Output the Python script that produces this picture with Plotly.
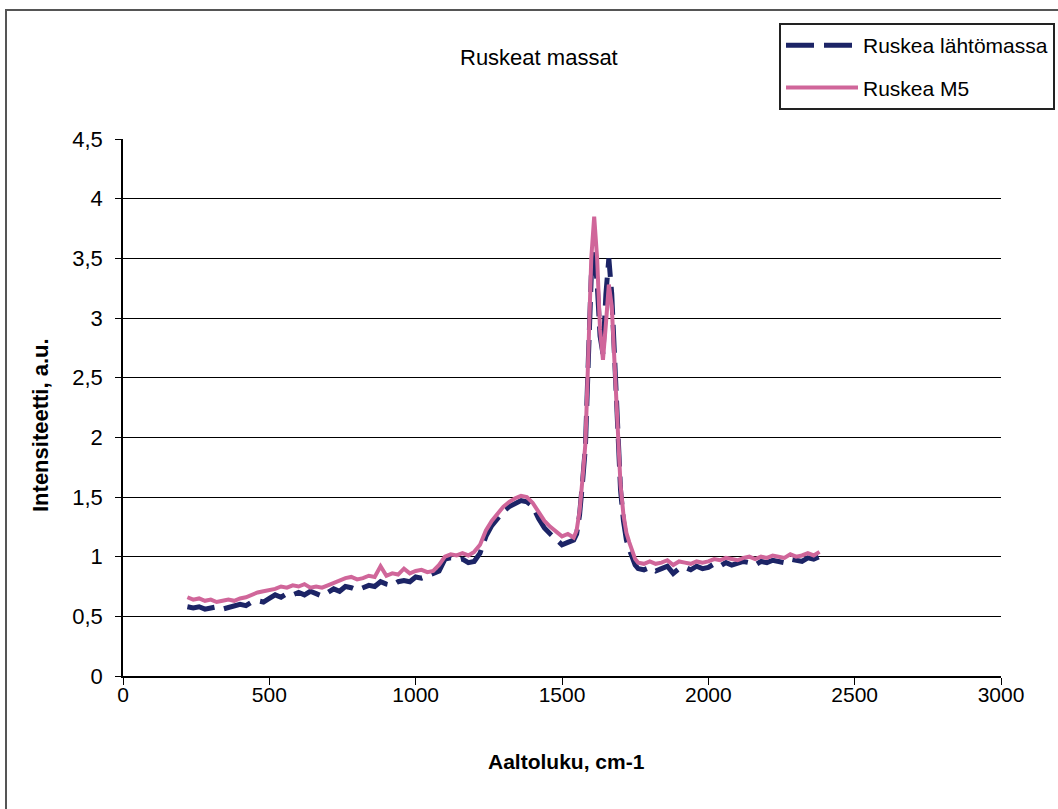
import plotly.graph_objects as go

# Raman spectra of the brown pulps (wavenumber in cm-1, intensity in a.u.)
wavenumber = [
    220, 240, 260, 280, 300, 320, 340, 360, 380, 400, 420, 440, 460, 480, 500,
    520, 540, 560, 580, 600, 620, 640, 660, 680, 700, 720, 740, 760, 780, 800,
    820, 840, 860, 880, 900, 920, 940, 960, 980, 1000, 1020, 1040, 1060, 1080,
    1100, 1120, 1140, 1160, 1180, 1200, 1220, 1240, 1260, 1280, 1300, 1320,
    1340, 1360, 1380, 1400, 1420, 1440, 1460, 1480, 1500, 1520, 1540,
    1550, 1560, 1570, 1580, 1590, 1600, 1610, 1620, 1630, 1640, 1650, 1660,
    1670, 1680, 1690, 1700, 1710, 1720, 1730, 1740, 1750, 1760,
    1780, 1800, 1820, 1840, 1860, 1880, 1900, 1920, 1940, 1960, 1980, 2000,
    2020, 2040, 2060, 2080, 2100, 2120, 2140, 2160, 2180, 2200, 2220, 2240,
    2260, 2280, 2300, 2320, 2340, 2360, 2380,
]

lahtomassa = [
    0.58, 0.57, 0.58, 0.56, 0.57, 0.58, 0.56, 0.57, 0.58, 0.60, 0.59, 0.62, 0.63, 0.62, 0.65,
    0.68, 0.66, 0.69, 0.68, 0.70, 0.68, 0.71, 0.69, 0.67, 0.70, 0.73, 0.71, 0.75, 0.74, 0.72,
    0.74, 0.76, 0.75, 0.79, 0.77, 0.76, 0.79, 0.80, 0.79, 0.83, 0.82, 0.84, 0.85, 0.88,
    0.98, 0.99, 0.97, 0.98, 0.95, 0.96, 1.03, 1.17, 1.26, 1.32, 1.38, 1.42,
    1.44, 1.47, 1.46, 1.42, 1.32, 1.24, 1.19, 1.14, 1.10, 1.12, 1.14,
    1.19, 1.35, 1.62, 1.92, 2.65, 3.35, 3.55, 3.30, 2.85, 2.70, 3.20, 3.50,
    3.20, 2.62, 2.08, 1.56, 1.30, 1.14, 1.06, 1.00, 0.93, 0.90,
    0.89, 0.91, 0.88, 0.90, 0.92, 0.86, 0.90, 0.91, 0.89, 0.92, 0.90, 0.91,
    0.94, 0.92, 0.95, 0.93, 0.94, 0.96, 0.95, 0.93, 0.96, 0.95, 0.97, 0.96,
    0.95, 0.98, 0.97, 0.96, 0.99, 0.98, 1.00,
]

m5 = [
    0.66, 0.64, 0.65, 0.63, 0.64, 0.62, 0.63, 0.64, 0.63, 0.65, 0.66, 0.68, 0.70, 0.71, 0.72,
    0.73, 0.75, 0.74, 0.76, 0.75, 0.77, 0.74, 0.75, 0.74, 0.76, 0.78, 0.80, 0.82, 0.83, 0.81,
    0.82, 0.84, 0.83, 0.92, 0.84, 0.86, 0.85, 0.90, 0.86, 0.88, 0.89, 0.87, 0.88, 0.93,
    1.00, 1.02, 1.01, 1.03, 1.01, 1.04, 1.10, 1.22, 1.30, 1.36, 1.42, 1.46,
    1.49, 1.51, 1.50, 1.45, 1.38, 1.30, 1.25, 1.21, 1.17, 1.19, 1.16,
    1.22, 1.38, 1.65, 1.95, 2.70, 3.50, 3.85, 3.50, 2.90, 2.65, 2.95, 3.28,
    3.10, 2.60, 2.10, 1.60, 1.35, 1.20, 1.12, 1.05, 0.98, 0.95,
    0.94, 0.96, 0.94, 0.95, 0.97, 0.93, 0.96, 0.95, 0.94, 0.96, 0.95, 0.96,
    0.98, 0.97, 0.99, 0.98, 0.97, 0.99, 1.00, 0.98, 1.00, 0.99, 1.01, 1.00,
    0.99, 1.02, 1.00, 1.01, 1.03, 1.01, 1.04,
]

x_ticks = [0, 500, 1000, 1500, 2000, 2500, 3000]
y_ticks = [0, 0.5, 1, 1.5, 2, 2.5, 3, 3.5, 4, 4.5]
y_tick_text = ["0", "0,5", "1", "1,5", "2", "2,5", "3", "3,5", "4", "4,5"]

FONT = "Liberation Sans, Arial, sans-serif"
NAVY = "#1c2466"
PINK = "#d0669a"

W, H = 1058, 809
L, R, T, B = 123, 57, 139, 133
PW, PH = W - L - R, H - T - B


def px_to_paper_x(px):
    return (px - L) / PW


def px_to_paper_y(py):
    return (H - B - py) / PH


fig = go.Figure()
fig.add_trace(go.Scatter(
    x=wavenumber, y=lahtomassa, mode="lines", name="Ruskea lähtömassa",
    legendgroup="a",
    line=dict(color=NAVY, width=5, dash="28px,10px"),
))
fig.add_trace(go.Scatter(
    x=wavenumber, y=m5, mode="lines", name="Ruskea M5",
    legendgroup="b",
    line=dict(color=PINK, width=4),
))

fig.update_layout(
    width=W, height=H,
    margin=dict(l=L, r=R, t=T, b=B, autoexpand=False),
    paper_bgcolor="white", plot_bgcolor="white",
    font=dict(family=FONT, color="black"),
    showlegend=True,
    legend=dict(
        x=px_to_paper_x(779), y=px_to_paper_y(23), xanchor="left", yanchor="top",
        bordercolor="#222", borderwidth=2, bgcolor="white",
        font=dict(size=21, family=FONT), itemwidth=72, tracegroupgap=12,
        traceorder="grouped",
    ),
    xaxis=dict(
        range=[0, 3000], tickvals=x_ticks, ticks="outside", ticklen=7,
        tickcolor="black", tickwidth=1, showline=True, linecolor="black",
        linewidth=1.5, showgrid=False, zeroline=False, ticklabelstandoff=-8,
        tickfont=dict(size=21, family=FONT),
    ),
    yaxis=dict(
        range=[0, 4.5], tickvals=y_ticks, ticktext=y_tick_text, ticks="outside",
        ticklen=6, tickcolor="black", tickwidth=1, showline=True,
        linecolor="black", linewidth=1.5, showgrid=True, gridcolor="black",
        gridwidth=1.2, zeroline=False, ticklabelstandoff=8,
        tickfont=dict(size=22, family=FONT),
    ),
    annotations=[
        dict(text="Ruskeat massat", x=px_to_paper_x(539), y=px_to_paper_y(57),
             xref="paper", yref="paper", showarrow=False,
             xanchor="center", yanchor="middle",
             font=dict(size=22, family=FONT)),
        dict(text="<b>Aaltoluku, cm-1</b>", x=px_to_paper_x(566), y=px_to_paper_y(761),
             xref="paper", yref="paper", showarrow=False,
             xanchor="center", yanchor="middle",
             font=dict(size=21, family=FONT)),
        dict(text="<b>Intensiteetti, a.u.</b>", x=px_to_paper_x(40), y=px_to_paper_y(425),
             xref="paper", yref="paper", showarrow=False, textangle=-90,
             xanchor="center", yanchor="middle",
             font=dict(size=22, family=FONT)),
    ],
    shapes=[
        # outer chart frame
        dict(type="rect", xref="paper", yref="paper",
             x0=px_to_paper_x(6), x1=px_to_paper_x(W + 20),
             y0=px_to_paper_y(H + 20), y1=px_to_paper_y(10),
             line=dict(color="#555", width=2), fillcolor="rgba(0,0,0,0)",
             layer="below"),
    ],
)

fig.write_html("out.html")
